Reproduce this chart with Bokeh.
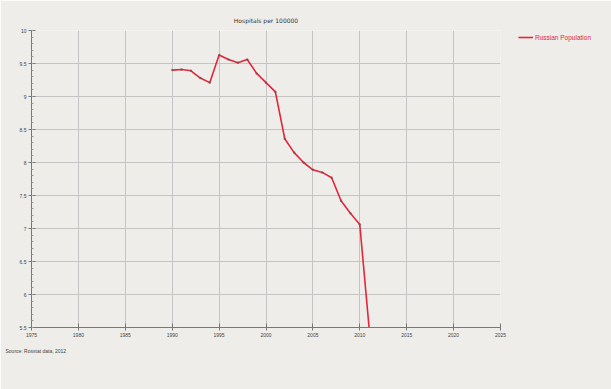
from bokeh.plotting import figure
from bokeh.models import Legend, LegendItem, Range1d, FixedTicker, Title
from bokeh.embed import file_html
from bokeh.resources import INLINE

years = [1990, 1991, 1992, 1993, 1994, 1995, 1996, 1997, 1998, 1999, 2000,
         2001, 2002, 2003, 2004, 2005, 2006, 2007, 2008, 2009, 2010, 2011]
hospitals = [9.40, 9.41, 9.39, 9.28, 9.21, 9.63, 9.56, 9.51, 9.56, 9.35, 9.21,
             9.07, 8.36, 8.15, 8.00, 7.89, 7.85, 7.77, 7.42, 7.23, 7.06, 5.48]
x_ticks = [1975, 1980, 1985, 1990, 1995, 2000, 2005, 2010, 2015, 2020, 2025]
y_ticks = [5.5, 6, 6.5, 7, 7.5, 8, 8.5, 9, 9.5, 10]
series_name = "Russian Population"
title_text = "Hospitals per 100000"
footer_text = "Source: Rosstat data, 2012"

BG = "#efedea"

p = figure(frame_width=469, frame_height=297, output_backend="svg", toolbar_location=None,
           x_range=Range1d(1975, 2025), y_range=Range1d(5.5, 10),
           min_border_left=31, min_border_right=10, min_border_top=30,
           min_border_bottom=62)
p.background_fill_color = BG
p.border_fill_color = BG
p.outline_line_color = None

p.title.text = title_text
p.title.align = "center"
p.title.text_font = "DejaVu Sans"
p.title.text_font_style = "normal"
p.title.text_font_size = "6px"
p.title.text_color = "#333333"
p.title.standoff = 14

r = p.line(years, hospitals, line_color="#e3263a", line_width=1.6)
p.scatter(years, hospitals, size=2.5, fill_color="#555555", line_color=None, fill_alpha=0.6)

p.xaxis.ticker = FixedTicker(ticks=x_ticks)
p.yaxis.ticker = FixedTicker(ticks=y_ticks, minor_ticks=[v / 10 for v in range(55, 101)])
for ax in (p.xaxis[0], p.yaxis[0]):
    ax.major_label_text_font_size = "5px"
    ax.major_label_text_color = "#444444"
    ax.axis_line_color = "#777777"
    ax.major_tick_line_color = "#777777"
    ax.minor_tick_line_color = "#999999"
    ax.major_tick_in = 4
    ax.major_tick_out = 3
    ax.major_label_standoff = 2
p.xaxis.minor_tick_line_color = None
p.yaxis.minor_tick_in = 2
p.yaxis.minor_tick_out = 0

p.xgrid.grid_line_color = "#c4c4c4"
p.ygrid.grid_line_color = "#c4c4c4"
p.xgrid.grid_line_width = 1
p.ygrid.grid_line_width = 1

legend = Legend(items=[LegendItem(label=series_name, renderers=[r])],
                location=(18, 286), background_fill_alpha=0, border_line_color=None,
                label_text_font_size="6.5px", label_text_color="#e3263a",
                glyph_width=15, glyph_height=8, padding=2, margin=0,
                label_height=8, label_standoff=2, label_width=70)
p.add_layout(legend, "right")

p.add_layout(Title(text=footer_text, align="left", offset=-26, text_font_size="5px",
                   text_font_style="normal", text_color="#444444", standoff=12), "below")

open("out.html", "w").write(file_html(p, INLINE))
